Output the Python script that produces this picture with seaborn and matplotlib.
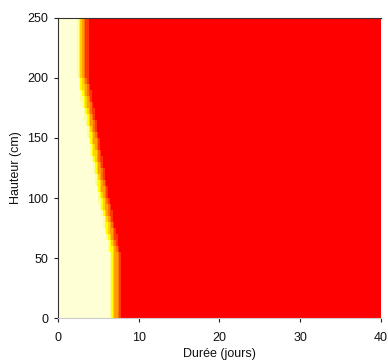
import numpy as np
import pandas as pd
import matplotlib
matplotlib.use("Agg")
import matplotlib.pyplot as plt
from matplotlib.colors import ListedColormap
import seaborn as sns

# Heights (cm, lower edge of each 5 cm row)
heights = list(range(0, 250, 5))
# Day at which each row is halfway through its colour transition
mid_day = [7.0] * 10 + [
    7.0, 6.85, 6.7, 6.55, 6.4, 6.25, 6.1, 5.95, 5.8, 5.65,
    5.5, 5.38, 5.25, 5.12, 5.0, 4.88, 4.75, 4.62, 4.5, 4.38,
    4.25, 4.12, 3.99, 3.86, 3.73, 3.6, 3.47, 3.34, 3.21, 3.08,
] + [2.95] * 10
transition_width = 1.8  # days from cream to red
day_step = 0.2
days = np.arange(0, 40, day_step)

x_ticks = [0, 10, 20, 30, 40]
y_ticks = [0, 50, 100, 150, 200, 250]

colors = ['#FFFFD5', '#FFFF99', '#FFFF00', '#FFD200', '#FFA000',
          '#FF7000', '#FF3800', '#FF0000']

grid = np.clip((days[None, :] - np.array(mid_day)[:, None]) / transition_width + 0.5, 0, 1)
df = pd.DataFrame(grid, index=heights, columns=np.round(days, 2))

sns.set_style("white")
plt.rcParams['font.family'] = ['Liberation Sans', 'DejaVu Sans']

fig = plt.figure(figsize=(3.88, 3.64), dpi=100)
ax = fig.add_axes([0.149, 0.126, 0.833, 0.825])
sns.heatmap(df, ax=ax, cmap=ListedColormap(colors), vmin=0, vmax=1,
            cbar=False, xticklabels=False, yticklabels=False)
ax.invert_yaxis()

ax.set_xticks([t / day_step for t in x_ticks])
ax.set_xticklabels([str(t) for t in x_ticks], fontsize=9)
ax.set_yticks([t / 5 for t in y_ticks])
ax.set_yticklabels([str(t) for t in y_ticks], fontsize=9)
ax.tick_params(axis='both', bottom=True, left=True, direction='out', length=3,
               width=0.8, color='#222222', labelcolor='#111111', pad=4)
ax.tick_params(axis='x', pad=7)

for s in ['left', 'bottom', 'top']:
    ax.spines[s].set_visible(True)
    ax.spines[s].set_color('#333333')
    ax.spines[s].set_linewidth(0.8)
ax.spines['bottom'].set_color('#cccccc')
ax.spines['right'].set_visible(False)

ax.set_xlabel('Durée (jours)', fontsize=9, labelpad=3, color='#111111')
ax.set_ylabel('Hauteur (cm)', fontsize=9, labelpad=4, color='#111111')

fig.savefig('out.png', dpi=100)
